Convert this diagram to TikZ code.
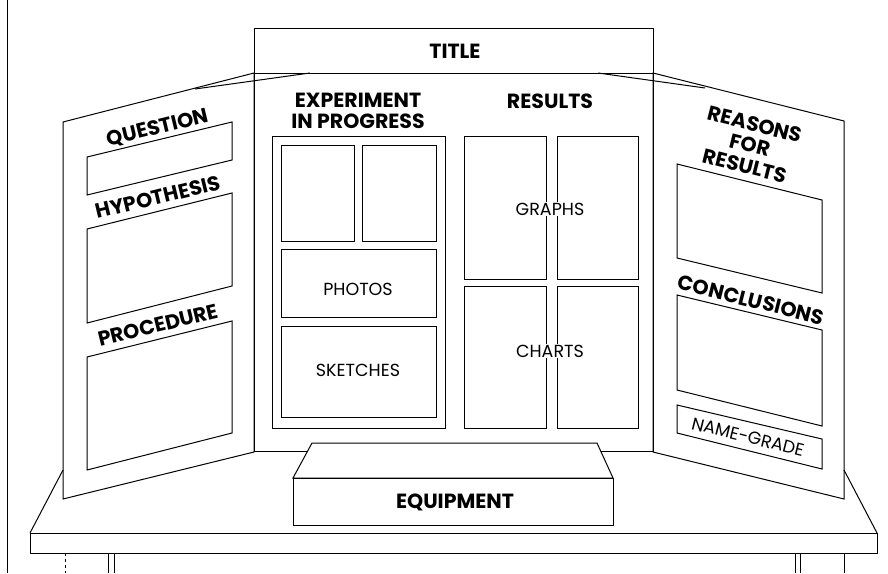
\documentclass[tikz,border=0pt]{standalone}
\usepackage{fontspec}
\setmainfont{Poppins}
\begin{document}
\begin{tikzpicture}[x=1pt,y=-1pt,line width=1pt,
    heading/.style={font=\bfseries\fontsize{20.5}{21.5}\selectfont,align=center,inner sep=0pt},
    caption/.style={font=\fontsize{17.5}{18}\selectfont,inner sep=0pt}]
        \useasboundingbox (0,0) rectangle (888,573);

        % wall edge
        \draw (7,0) -- (7,573);

        % table
        \draw (30,533) rectangle (877,553);
        \draw (30,533) -- (63,470);
        \draw (877,533) -- (844,470);
        \draw[dashed] (65,553) -- (65,573);
        \draw (108,553) -- (108,573);
        \draw (114,553) -- (114,573);
        \draw (795,553) -- (795,573);
        \draw (800,553) -- (800,573);
        \draw (844,553) -- (844,573);

        % panels
        \draw (63,122) -- (254,73) -- (254,452) -- (63,499) -- cycle;
        \draw (254,73) rectangle (653,451);
        \draw (653,73) -- (844,121) -- (844,499) -- (653,452) -- cycle;
        \draw (195,89) -- (310,73);
        \draw (598,73) -- (705,88);

        % title
        \draw (254,28) rectangle (653,73);
        \node[heading] (title) at (455,51) {TITLE};

        % left panel
        \node[heading,rotate=13.6] (question) at (158,128) {QUESTION};
        \draw (87,157) -- (232,122) -- (232,160) -- (87,195) -- cycle;
        \node[heading,rotate=13.6] (hypothesis) at (158,197) {HYPOTHESIS};
        \draw (87,229) -- (232,193) -- (232,286) -- (87,323) -- cycle;
        \node[heading,rotate=13.6] (procedure) at (158,325) {PROCEDURE};
        \draw (87,357) -- (232,321) -- (232,433) -- (87,470) -- cycle;

        % experiment
        \node[heading] (experiment) at (358,111) {EXPERIMENT\\IN PROGRESS};
        \draw (272,136) rectangle (445,428);
        \draw (281,145) rectangle (354,241);
        \draw (362,145) rectangle (436,241);
        \draw (281,249) rectangle (436,317);
        \node[caption] (photos) at (358,289) {PHOTOS};
        \draw (281,326) rectangle (436,417);
        \node[caption] (sketches) at (358,370) {SKETCHES};

        % results
        \node[heading] (results) at (550,101) {RESULTS};
        \draw (464,136) rectangle (546,279);
        \draw (557,136) rectangle (638,279);
        \draw (464,286) rectangle (546,428);
        \draw (557,286) rectangle (638,428);
        \node[caption,fill=white,inner sep=1pt] (graphs) at (550,209) {GRAPHS};
        \node[caption,fill=white,inner sep=1pt] (charts) at (550,351) {CHARTS};

        % right panel
        \node[heading,rotate=-14] (reasons) at (750,145) {REASONS\\FOR\\RESULTS};
        \draw (677,164) -- (822,200) -- (822,293) -- (677,258) -- cycle;
        \node[heading,rotate=-14] (conclusions) at (751,300) {CONCLUSIONS};
        \draw (677,295) -- (822,330) -- (822,426) -- (677,390) -- cycle;
        \draw (677,405) -- (822,439) -- (822,469) -- (677,433) -- cycle;
        \node[caption,rotate=-14] (namegrade) at (748,437) {NAME-GRADE};

        % equipment
        \draw[fill=white] (293,478) -- (312,443) -- (597,443) -- (613,478) -- cycle;
        \draw[fill=white] (293,478) rectangle (613,525);
        \node[heading] (equipment) at (455,502) {EQUIPMENT};
    \end{tikzpicture}
\end{document}
